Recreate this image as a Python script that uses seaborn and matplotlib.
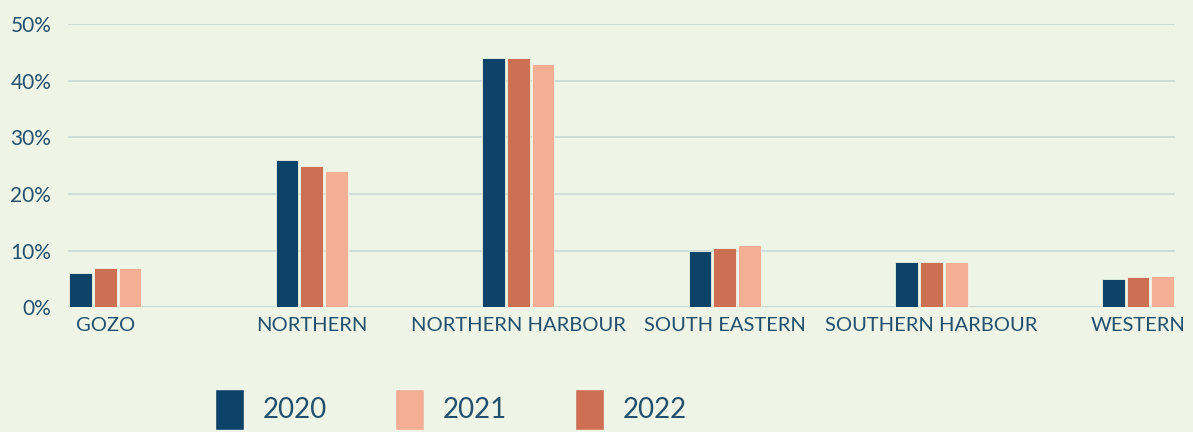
import matplotlib.pyplot as plt
import matplotlib.ticker as mticker
from matplotlib.patches import Patch
import seaborn as sns
import pandas as pd

regions = ["GOZO", "NORTHERN", "NORTHERN HARBOUR", "SOUTH EASTERN", "SOUTHERN HARBOUR", "WESTERN"]
share_2020 = [6, 26, 44, 10, 8, 5]
share_2021 = [7, 24, 43, 11, 8, 5.5]
share_2022 = [7, 25, 44, 10.5, 8, 5.3]
years = ["2020", "2021", "2022"]

BG = "#eef5e6"
TXT = "#24506e"
GRID = "#c9d9d3"
colors = {"2020": "#0e4369", "2021": "#f3ae94", "2022": "#cd6f52"}

df = pd.DataFrame({
    "region": regions * 3,
    "share": share_2020 + share_2021 + share_2022,
    "year": ["2020"] * 6 + ["2021"] * 6 + ["2022"] * 6,
})

sns.set_theme(style="white")
plt.rcParams["font.family"] = ["Lato", "DejaVu Sans"]

fig = plt.figure(figsize=(11.93, 4.32), dpi=100, facecolor=BG)
ax = fig.add_axes([0.057, 0.289, 0.928, 0.655])
ax.set_facecolor(BG)

# bars in the picture go navy, terracotta, peach
sns.barplot(data=df, x="region", y="share", hue="year", hue_order=["2020", "2022", "2021"],
            palette=colors, saturation=1, width=0.36, gap=0.08, ax=ax, legend=False,
            errorbar=None, edgecolor=BG, linewidth=0.6)

ax.set_xlim(-0.18, 5.18)
ax.set_ylim(0, 50)
ax.set_yticks(range(0, 51, 10))
ax.yaxis.set_major_formatter(mticker.FuncFormatter(lambda v, p: f"{v:.0f}%"))
ax.grid(axis="y", color=GRID, linewidth=1.2)
ax.set_axisbelow(True)
ax.axhline(0, color="#b9cbc6", linewidth=2, zorder=0.5)
for s in ax.spines.values():
    s.set_visible(False)
ax.set_xlabel("")
ax.set_ylabel("")
ax.tick_params(axis="both", length=0, labelcolor=TXT)
ax.tick_params(axis="y", pad=12, labelsize=15)
ax.tick_params(axis="x", pad=7, labelsize=14.5)

handles = [Patch(facecolor=colors[y], edgecolor=BG) for y in years]
fig.legend(handles, years, loc="upper left", bbox_to_anchor=(0.18, 0.1), ncol=3,
           frameon=False, fontsize=20, labelcolor=TXT, handlelength=1.04, handleheight=1.9,
           handletextpad=0.68, columnspacing=2.45, borderpad=0, borderaxespad=0)

fig.savefig("out.png", dpi=100, facecolor=BG)
